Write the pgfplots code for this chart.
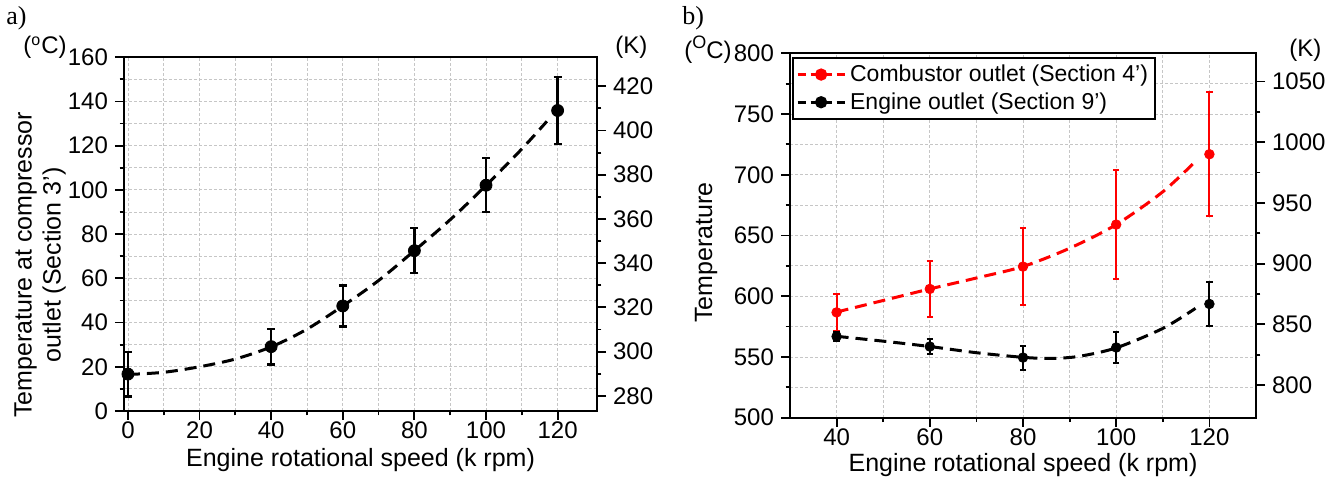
\documentclass[border=0pt]{standalone}
\usepackage{fontspec}
\setmainfont{Liberation Sans}
\newfontfamily\serifa{Liberation Serif}
\usepackage{pgfplots}
\pgfplotsset{compat=1.18}

\pgfplotsset{
  mystyle/.style={
    scale only axis,
    axis line style={line width=0.9pt},
    every tick/.style={line width=0.9pt, black},
    tick align=outside,
    major tick length=4.5pt,
    minor tick length=2.2pt,
    tick label style={font=\fontsize{12}{12}\selectfont},
    xticklabel style={yshift=2.5pt},
    /pgf/number format/assume math mode=true,
    /pgf/number format/1000 sep={},
    label style={font=\fontsize{12.5}{14.5}\selectfont},
    grid=both,
    major grid style={dash pattern=on 1.5pt off 1pt, gray!45, line width=0.4pt},
    minor grid style={dash pattern=on 1.5pt off 1pt, gray!45, line width=0.4pt},
    xtick pos=left, ytick pos=left,
  },
  kstyle/.style={
    scale only axis,
    axis x line=none,
    axis y line*=right,
    axis line style={line width=0.9pt},
    every tick/.style={line width=0.9pt, black},
    tick align=outside,
    major tick length=4.5pt,
    minor tick length=2.2pt,
    tick label style={font=\fontsize{12}{12}\selectfont},
    /pgf/number format/assume math mode=true,
    /pgf/number format/1000 sep={},
  },
  fitline/.style={line width=1.5pt, dash pattern=on 6pt off 3.5pt, smooth, no markers},
}

\pgfplotstableread{
x y e
0 16.7 10.1
40 29.1 8.0
60 47.5 9.2
80 72.5 10.2
100 102.1 12.2
120 135.9 15.2
}\compdata

\pgfplotstableread{
x y
0 16.5
10 17.5
20 20
30 23.5
40 29
50 37
60 47.5
70 59
80 72.5
90 86.5
100 102
110 118.5
117 131
}\compfit

\pgfplotstableread{
x y e
40 586.7 15.2
60 606.0 23.3
80 624.4 31.8
100 659.0 45.2
120 716.9 51.2
}\combdata

\pgfplotstableread{
x y
40 587
50 596.5
60 606
70 615
80 624.5
90 639.5
100 659
110 686
117 711
}\combfit

\pgfplotstableread{
x y e
40 566.9 4.0
60 558.6 6.2
80 549.5 9.9
100 557.8 12.4
120 593.6 18.2
}\engdata

\pgfplotstableread{
x y
40 567
50 563
60 558.6
70 553.5
80 549.7
86 548.8
92 550.5
100 557.5
110 573.5
117 590
}\engfit

\begin{document}
\begin{tikzpicture}
\path[use as bounding box] (0,0) rectangle (670.5pt,240.5pt);

% ---------- panel a ----------
\begin{axis}[mystyle, at={(62pt,35pt)}, anchor=south west,
  width=236.5pt, height=176.9pt,
  xmin=-1.1, xmax=131, ymin=0, ymax=160,
  xtick={0,20,...,120}, ytick={0,20,...,160},
  minor x tick num=1, minor y tick num=1,
  xlabel={Engine rotational speed (k rpm)},
  xlabel style={at={([yshift=-28pt]axis description cs:0.5,0)}, anchor=base},
  ylabel={Temperature at compressor\\outlet (Section 3')},
  ylabel style={align=center, at={([xshift=-42pt]axis description cs:0,0.413)}, anchor=center},
]
\addplot[fitline, black] table[x=x,y=y] {\compfit};
\addplot[black, only marks, mark=*, mark size=3pt,
  error bars/.cd, y dir=both, y explicit,
  error bar style={line width=1.2pt},
  error mark options={rotate=90, mark size=2pt, line width=1.2pt}]
  table[x=x, y=y, y error=e] {\compdata};
\end{axis}
\begin{axis}[kstyle, at={(62pt,35pt)}, anchor=south west,
  width=236.5pt, height=176.9pt,
  xmin=-1.1, xmax=131, ymin=273.15, ymax=433.15,
  ytick={280,300,...,420}, minor y tick num=1]
\addplot[draw=none, forget plot] coordinates {(0,300)};
\end{axis}

% ---------- panel b ----------
\begin{axis}[mystyle, at={(395pt,31.65pt)}, anchor=south west,
  width=233pt, height=182.2pt,
  xmin=30, xmax=130, ymin=500, ymax=800,
  xtick={40,60,...,120}, ytick={500,550,...,800},
  minor x tick num=1, minor y tick num=1,
  xlabel={Engine rotational speed (k rpm)},
  xlabel style={at={([yshift=-27pt]axis description cs:0.5,0)}, anchor=base},
  ylabel={Temperature},
  ylabel style={at={([xshift=-42pt]axis description cs:0,0.453)}, anchor=center},
  legend style={at={(axis description cs:0.005,0.99)}, anchor=north west,
    draw=black, line width=0.8pt, fill=white,
    font=\fontsize{11.5}{13.5}\selectfont, inner sep=1.5pt, row sep=0pt},
  legend cell align=left,
  legend image code/.code={\draw[mark repeat=2,mark phase=2,#1] plot coordinates {(0pt,0pt) (11.75pt,0pt) (23.5pt,0pt)};},
]
\addplot[fitline, red, forget plot] table[x=x,y=y] {\combfit};
\addplot[red, only marks, mark=*, mark size=2.4pt, forget plot,
  error bars/.cd, y dir=both, y explicit,
  error bar style={line width=1pt},
  error mark options={rotate=90, mark size=1.6pt, line width=1pt}]
  table[x=x, y=y, y error=e] {\combdata};
\addplot[fitline, black, forget plot] table[x=x,y=y] {\engfit};
\addplot[black, only marks, mark=*, mark size=2.4pt, forget plot,
  error bars/.cd, y dir=both, y explicit,
  error bar style={line width=1pt},
  error mark options={rotate=90, mark size=1.6pt, line width=1pt}]
  table[x=x, y=y, y error=e] {\engdata};
\addlegendimage{red, line width=1.5pt, dash pattern=on 4pt off 2.5pt, mark=*, mark size=2.3pt, mark options={solid}}
\addlegendentry{Combustor outlet (Section 4')}
\addlegendimage{black, line width=1.5pt, dash pattern=on 4pt off 2.5pt, mark=*, mark size=2.3pt, mark options={solid}}
\addlegendentry{Engine outlet (Section 9')}
\end{axis}
\begin{axis}[kstyle, at={(395pt,31.65pt)}, anchor=south west,
  width=233pt, height=182.2pt,
  xmin=30, xmax=130, ymin=773.15, ymax=1073.15,
  ytick={800,850,...,1050}, minor y tick num=1]
\addplot[draw=none, forget plot] coordinates {(40,800)};
\end{axis}

% ---------- panel labels and units ----------
\node[anchor=north west, inner sep=0pt, font=\serifa\fontsize{13}{13}\selectfont] at (3pt,237.5pt) {a)};
\node[anchor=north west, inner sep=0pt, font=\serifa\fontsize{13}{13}\selectfont] at (341pt,237.5pt) {b)};
\node[anchor=base east, inner sep=0pt, font=\fontsize{12}{12}\selectfont] at (33.5pt,213.5pt) {(\textsuperscript{o}C)};
\node[anchor=base west, inner sep=0pt, font=\fontsize{12}{12}\selectfont] at (307.5pt,213.5pt) {(K)};
\node[anchor=base east, inner sep=0pt, font=\fontsize{12}{12}\selectfont] at (366pt,211pt) {(\raisebox{0.42em}{\fontsize{9}{9}\selectfont O}C)};
\node[anchor=base west, inner sep=0pt, font=\fontsize{12}{12}\selectfont] at (644.5pt,212pt) {(K)};
\end{tikzpicture}
\end{document}
